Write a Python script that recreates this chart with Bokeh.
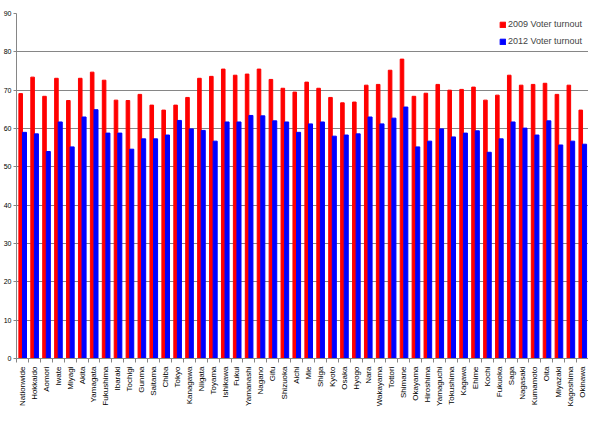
from math import pi

from bokeh.plotting import figure
from bokeh.models import ColumnDataSource, FixedTicker, Range1d, Legend, LegendItem
from bokeh.transform import dodge
from bokeh.embed import file_html
from bokeh.resources import INLINE

# prefectures (plus nationwide) in chart order
areas = ["Nationwide", "Hokkaido", "Aomori", "Iwate", "Miyagi", "Akita", "Yamagata",
         "Fukushima", "Ibaraki", "Tochigi", "Gunma", "Saitama", "Chiba", "Tokyo",
         "Kanagawa", "Niigata", "Toyama", "Ishikawa", "Fukui", "Yamanashi", "Nagano",
         "Gifu", "Shizuoka", "Aichi", "Mie", "Shiga", "Kyoto", "Osaka", "Hyogo", "Nara",
         "Wakayama", "Tottori", "Shimane", "Okayama", "Hiroshima", "Yamaguchi",
         "Tokushima", "Kagawa", "Ehime", "Kochi", "Fukuoka", "Saga", "Nagasaki",
         "Kumamoto", "Oita", "Miyazaki", "Kagoshima", "Okinawa"]

turnout_2009 = [69.1, 73.4, 68.4, 73.1, 67.3, 73.1, 74.7, 72.6, 67.4, 67.3, 68.9, 66.1,
                64.8, 66.1, 68.1, 73.1, 73.6, 75.5, 73.9, 74.2, 75.5, 72.8, 70.5, 69.5,
                72.1, 70.5, 68.1, 66.7, 66.9, 71.3, 71.5, 75.2, 78.1, 68.4, 69.2, 71.5,
                70.0, 70.2, 70.8, 67.4, 68.7, 73.9, 71.3, 71.5, 71.8, 68.9, 71.3, 64.8]

turnout_2012 = [59.0, 58.6, 54.0, 61.7, 55.2, 63.0, 64.9, 58.8, 58.8, 54.6, 57.3, 57.3,
                58.3, 62.1, 59.9, 59.5, 56.7, 61.7, 61.7, 63.4, 63.3, 62.0, 61.7, 59.0,
                61.2, 61.7, 58.0, 58.3, 58.6, 63.0, 61.2, 62.7, 65.6, 55.2, 56.7, 59.9,
                57.8, 58.8, 59.4, 53.8, 57.3, 61.7, 60.1, 58.3, 62.0, 55.7, 56.7, 55.9]

y_ticks = [0, 10, 20, 30, 40, 50, 60, 70, 80, 90]

idx = list(range(len(areas)))
source = ColumnDataSource(data={'x': idx, 'areas': areas,
                                'y2009': turnout_2009, 'y2012': turnout_2012})

FONT = "Liberation Sans"
GRAY = "#868686"

p = figure(width=588, height=414, output_backend="svg", toolbar_location=None,
           x_range=Range1d(-0.5, len(areas) - 0.5), y_range=Range1d(0, 90),
           min_border_left=0, min_border_right=0, min_border_top=13, min_border_bottom=56)
p.outline_line_color = None
p.background_fill_color = "white"

r09 = p.vbar(x=dodge('x', -0.15, range=p.x_range), top='y2009', width=0.3,
             source=source, color="#FF0000")
r12 = p.vbar(x=dodge('x', 0.17, range=p.x_range), top='y2012', width=0.34,
             source=source, color="#0000FF")

# x axis: labels at bar groups, small ticks between groups
p.xaxis.ticker = FixedTicker(ticks=idx, minor_ticks=[i + 0.5 for i in idx[:-1]] + [-0.5, len(idx) - 0.5])
p.xaxis.major_label_overrides = {i: a for i, a in zip(idx, areas)}
p.xaxis.major_label_orientation = pi / 2
p.xaxis.major_tick_out = 0
p.xaxis.major_tick_in = 0
p.xaxis.minor_tick_out = 4
p.xaxis.minor_tick_in = 0
p.xaxis.minor_tick_line_color = GRAY
p.xaxis.axis_line_color = GRAY
p.xaxis.major_label_standoff = 4
p.xaxis.major_label_text_font = FONT
p.xaxis.major_label_text_font_size = "8px"
p.xaxis.major_label_text_color = "black"

p.yaxis.ticker = FixedTicker(ticks=y_ticks, minor_ticks=[])
p.yaxis.major_tick_out = 3
p.yaxis.major_tick_in = 0
p.yaxis.major_tick_line_color = GRAY
p.yaxis.axis_line_color = GRAY
p.yaxis.major_label_standoff = 2
p.yaxis.major_label_text_font = FONT
p.yaxis.major_label_text_font_size = "7px"
p.yaxis.major_label_text_color = "black"

p.xgrid.grid_line_color = None
p.ygrid.grid_line_color = GRAY
p.ygrid.grid_line_width = 1

legend = Legend(items=[LegendItem(label="2009 Voter turnout", renderers=[r09]),
                       LegendItem(label="2012 Voter turnout", renderers=[r12])],
                location="top_right")
legend.border_line_color = None
legend.background_fill_alpha = 0
legend.label_text_font = FONT
legend.label_text_font_size = "9px"
legend.glyph_width = 7
legend.glyph_height = 7
legend.label_standoff = 2
legend.label_height = 10
legend.spacing = 7
legend.padding = 2
legend.margin = 6
p.add_layout(legend)

open("out.html", "w").write(file_html(p, INLINE))
